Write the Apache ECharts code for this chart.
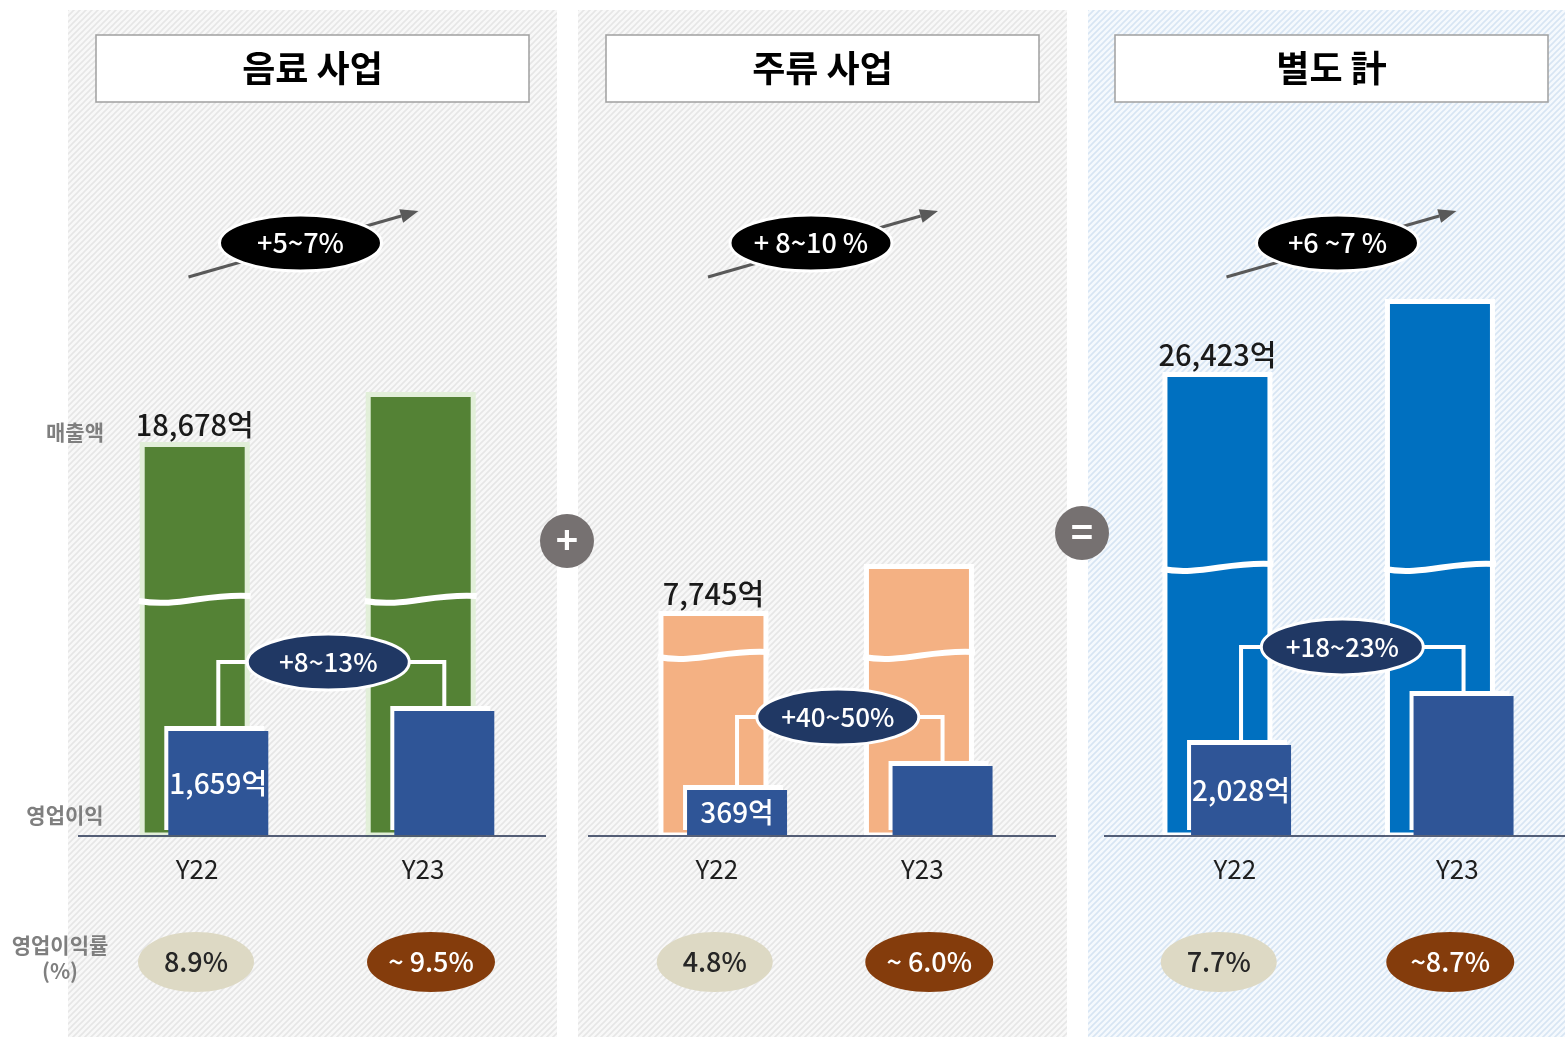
<!DOCTYPE html>
<html><head><meta charset="utf-8">
<script src="https://cdn.jsdelivr.net/npm/echarts@6/dist/echarts.min.js"></script>
<style>html,body{margin:0;padding:0;background:#fff}#c{width:1565px;height:1037px}</style>
</head><body><div id="c"></div><script>
// ---------- data ----------
const categories = ['Y22', 'Y23'];
const panelTitles = ['음료 사업', '주류 사업', '별도 計'];
const revenueBeverage = [18678, 19800];
const revenueLiquor = [7745, 8440];
const revenueTotal = [26423, 28140];
const profitBeverage = [1659, 1830];
const profitLiquor = [369, 535];
const profitTotal = [2028, 2445];
const marginBeverage = [8.9, 9.5];
const marginLiquor = [4.8, 6.0];
const marginTotal = [7.7, 8.7];
const revenueGrowthLabels = ['+5~7%', '+ 8~10 %', '+6 ~7 %'];
const profitGrowthLabels = ['+8~13%', '+40~50%', '+18~23%'];
const forecastPrefix = ['~ ', '~ ', '~'];
const rowLabels = ['매출액', '영업이익', '영업이익률', '(%)'];
const operatorLabels = ['+', '='];

// ---------- layout / style ----------
const FONT = "'Noto Sans CJK KR','Noto Sans',sans-serif";
const GRID_TOP = 135, GRID_H = 700;
const REV_W = 110, PROF_W = 100, GAP = -0.74;
const TOTAL_W = REV_W * (1 + GAP) + PROF_W;
const REV_OFF = -TOTAL_W / 2 + REV_W / 2;
const PROF_OFF = -TOTAL_W / 2 + REV_W * (1 + GAP) + PROF_W / 2;

const panels = [
  { rev: revenueBeverage, prof: profitBeverage, margin: marginBeverage, revColor: '#548235', revBorder: '#e2efd9',
    gridLeft: 91, gridWidth: 452, revAxis: [9859, 25567], profAxis: [770, 6755], breakAt: 15155,
    bgX: 68, bgW: 489, blue: false, headX: 96, baseX1: 78, baseX2: 546,
    arrowShift: -11, topEllShift: -8, growthShift: -3, labelShift: -7 },
  { rev: revenueLiquor, prof: profitLiquor, margin: marginLiquor, revColor: '#f4b183', revBorder: '#ffffff',
    gridLeft: 620, gridWidth: 411, revAxis: [4432, 14785], profAxis: [58, 4900], breakAt: 7094,
    bgX: 578, bgW: 489, blue: false, headX: 606, baseX1: 588, baseX2: 1056,
    arrowShift: 0, topEllShift: -6, growthShift: -2, labelShift: -6 },
  { rev: revenueTotal, prof: profitTotal, margin: marginTotal, revColor: '#0070c0', revBorder: '#ffffff',
    gridLeft: 1115.5, gridWidth: 445, revAxis: [15533, 31997], profAxis: [1262, 7219], breakAt: 21836,
    bgX: 1088, bgW: 477, blue: true, headX: 1115, baseX1: 1104, baseX2: 1565,
    arrowShift: 6, topEllShift: 8, growthShift: -10, labelShift: 8 }
];

function hatch(bg, line) {
  const c = document.createElement('canvas');
  c.width = 6; c.height = 6;
  const x = c.getContext('2d');
  x.fillStyle = bg; x.fillRect(0, 0, 6, 6);
  x.strokeStyle = line; x.lineWidth = 1.6;
  x.beginPath();
  x.moveTo(0, 6); x.lineTo(6, 0);
  x.moveTo(-1, 1); x.lineTo(1, -1);
  x.moveTo(5, 7); x.lineTo(7, 5);
  x.stroke();
  return c;
}
const grayHatch = hatch('#f8f8f8', '#e6e6e6');
const blueHatch = hatch('#f5f9fd', '#d7e5f3');

const fmt = v => v.toLocaleString('en-US');
const centerText = { align: 'center', verticalAlign: 'middle', textAlign: 'center', textVerticalAlign: 'middle' };

const grids = [], xAxes = [], yAxes = [], series = [], graphics = [];

panels.forEach((p, i) => {
  grids.push({ left: p.gridLeft, width: p.gridWidth, top: GRID_TOP, height: GRID_H, containLabel: false, outerBoundsMode: 'none' });
  const ls = p.labelShift;
  xAxes.push({ type: 'category', gridIndex: i, data: categories,
    axisLine: { show: false }, axisTick: { show: false }, splitLine: { show: false },
    axisLabel: { fontSize: 26, color: '#1e1e1e', fontFamily: FONT, margin: 21,
      padding: ls < 0 ? [0, -2 * ls, 0, 0] : [0, 0, 0, 2 * ls] } });
  yAxes.push({ type: 'value', gridIndex: i, min: p.revAxis[0], max: p.revAxis[1], show: false, splitLine: { show: false } });
  yAxes.push({ type: 'value', gridIndex: i, min: p.profAxis[0], max: p.profAxis[1], show: false, splitLine: { show: false } });

  // revenue bars
  series.push({ type: 'bar', xAxisIndex: i, yAxisIndex: 2 * i, data: p.rev, barWidth: REV_W, barGap: (GAP * 100) + '%',
    clip: true, z: 2,
    itemStyle: { color: p.revColor, borderColor: p.revBorder, borderWidth: 5 },
    label: { show: true, position: 'top', distance: 3, fontSize: 29, fontWeight: 500, color: '#1a1a1a', fontFamily: FONT,
      formatter: prm => prm.dataIndex === 0 ? fmt(prm.value) + '억' : '' } });
  // profit bars
  series.push({ type: 'bar', xAxisIndex: i, yAxisIndex: 2 * i + 1, data: p.prof, barWidth: PROF_W, barGap: (GAP * 100) + '%',
    clip: true, z: 4,
    itemStyle: { color: '#2f5597', shadowColor: '#ffffff', shadowBlur: 0, shadowOffsetX: -4, shadowOffsetY: -5 },
    label: { show: true, position: 'inside', fontSize: 28, fontWeight: 500, color: '#ffffff', fontFamily: FONT,
      formatter: prm => prm.dataIndex === 0 ? fmt(prm.value) + '억' : '' } });

  // broken-axis wave marks on revenue bars
  series.push({ type: 'custom', xAxisIndex: i, yAxisIndex: 2 * i, z: 3, silent: true,
    data: categories.map((c, k) => [k, p.breakAt]),
    renderItem: (params, api) => {
      const pt = api.coord([api.value(0), api.value(1)]);
      const cx = pt[0] + REV_OFF, half = REV_W / 2 + 1, y = pt[1];
      const x0 = cx - half, x1 = cx + half, w = x1 - x0;
      return { type: 'bezierCurve',
        shape: { x1: x0, y1: y + 2, cpx1: x0 + w * 0.35, cpy1: y + 9, cpx2: x0 + w * 0.6, cpy2: y - 6, x2: x1, y2: y - 3 },
        style: { stroke: '#ffffff', lineWidth: 6, fill: null } };
    } });

  // profit growth connector + ellipse
  series.push({ type: 'custom', xAxisIndex: i, yAxisIndex: 2 * i + 1, z: 5, silent: true,
    data: [[0, p.prof[0], 1, p.prof[1]]],
    renderItem: (params, api) => {
      const a = api.coord([api.value(0), api.value(1)]);
      const b = api.coord([api.value(2), api.value(3)]);
      const xa = a[0] + PROF_OFF, xb = b[0] + PROF_OFF;
      const level = Math.min(a[1], b[1]) - 49;
      const cx = (xa + xb) / 2 + p.growthShift;
      return { type: 'group', children: [
        { type: 'polyline', shape: { points: [[xa, a[1] - 3], [xa, level], [xb, level], [xb, b[1] - 3]] },
          style: { stroke: '#ffffff', lineWidth: 4, fill: null } },
        { type: 'ellipse', shape: { cx: cx, cy: level, rx: 81, ry: 28 },
          style: { fill: '#203864', stroke: '#ffffff', lineWidth: 3 } },
        { type: 'text', style: Object.assign({ text: profitGrowthLabels[i], x: cx, y: level, fill: '#ffffff', fontSize: 26,
          fontWeight: 500, fontFamily: FONT }, centerText) }
      ] };
    } });

  // revenue growth arrow + black ellipse
  series.push({ type: 'custom', xAxisIndex: i, yAxisIndex: 2 * i, z: 5, silent: true,
    data: [[0, p.rev[0], 1, p.rev[1]]],
    renderItem: (params, api) => {
      const a = api.coord([api.value(0), api.value(1)]);
      const b = api.coord([api.value(2), api.value(3)]);
      const top = params.coordSys.y;
      const m = (a[0] + b[0]) / 2 + (REV_OFF + PROF_OFF) / 2;
      const sx = m - 120 + p.arrowShift, sy = top + 142, ex = m + 110 + p.arrowShift, ey = top + 76;
      const dx = ex - sx, dy = ey - sy, len = Math.sqrt(dx * dx + dy * dy);
      const ux = dx / len, uy = dy / len, L = 18, H = 7;
      const bx = ex - ux * L, by = ey - uy * L;
      const ecx = m - 11 + p.topEllShift, ecy = top + 108;
      return { type: 'group', children: [
        { type: 'line', shape: { x1: sx, y1: sy, x2: bx, y2: by }, style: { stroke: '#595959', lineWidth: 3 } },
        { type: 'polygon', shape: { points: [[ex, ey], [bx - uy * H, by + ux * H], [bx + uy * H, by - ux * H]] },
          style: { fill: '#595959' } },
        { type: 'ellipse', shape: { cx: ecx, cy: ecy, rx: 81, ry: 28 }, style: { fill: '#000000', stroke: '#ffffff', lineWidth: 3 } },
        { type: 'text', style: Object.assign({ text: revenueGrowthLabels[i], x: ecx, y: ecy, fill: '#ffffff', fontSize: 27,
          fontWeight: 500, fontFamily: FONT }, centerText) }
      ] };
    } });

  // operating margin ellipses
  series.push({ type: 'custom', xAxisIndex: i, yAxisIndex: 2 * i, z: 5, silent: true,
    data: p.margin.map((v, k) => [k, v]),
    renderItem: (params, api) => {
      const k = api.value(0), v = api.value(1);
      const pt = api.coord([k, p.revAxis[0]]);
      const cx = pt[0] + (k === 0 ? -8 : 1);
      const cy = params.coordSys.y + params.coordSys.height + 127;
      const txt = (k === 0 ? '' : forecastPrefix[i]) + v.toFixed(1) + '%';
      return { type: 'group', children: [
        { type: 'ellipse', shape: { cx: cx, cy: cy, rx: k === 0 ? 58 : 64, ry: 30 },
          style: { fill: k === 0 ? '#ddd9c4' : '#843c0c' } },
        { type: 'text', style: Object.assign({ text: txt, x: cx, y: cy, fill: k === 0 ? '#262626' : '#ffffff', fontSize: 27,
          fontWeight: 500, fontFamily: FONT }, centerText) }
      ] };
    } });

  // panel chrome
  graphics.push({ type: 'rect', z: 0, shape: { x: p.bgX, y: 10, width: p.bgW, height: 1027 },
    style: { fill: { image: p.blue ? blueHatch : grayHatch, repeat: 'repeat' } } });
  graphics.push({ type: 'rect', z: 1, shape: { x: p.headX, y: 35, width: 433, height: 67 },
    style: { fill: '#ffffff', stroke: '#a0a0a0', lineWidth: 1.5 } });
  graphics.push({ type: 'text', z: 1, x: p.headX + 216.5, y: 68,
    style: Object.assign({ text: panelTitles[i], fill: '#000000', font: 'bold 36px ' + FONT }, centerText) });
  graphics.push({ type: 'line', z: 50, shape: { x1: p.baseX1, y1: 836, x2: p.baseX2, y2: 836 },
    style: { stroke: '#1f2d4d', lineWidth: 1.5 } });
});

// row labels
[[75, 432, rowLabels[0]], [65, 815, rowLabels[1]], [60, 945, rowLabels[2]], [60, 971, rowLabels[3]]].forEach(r => {
  graphics.push({ type: 'text', z: 50, x: r[0], y: r[1],
    style: Object.assign({ text: r[2], fill: '#7f7f7f', font: 'bold 21px ' + FONT }, centerText) });
});
// operators
[[567, 541, operatorLabels[0]], [1082, 533, operatorLabels[1]]].forEach(o => {
  graphics.push({ type: 'circle', z: 50, shape: { cx: o[0], cy: o[1], r: 27 }, style: { fill: '#767171' } });
  graphics.push({ type: 'text', z: 51, x: o[0], y: o[1] - 1,
    style: Object.assign({ text: o[2], fill: '#ffffff', font: 'bold 38px ' + FONT }, centerText) });
});

const chart = echarts.init(document.getElementById('c'), null, { renderer: 'canvas' });
chart.setOption({
  animation: false,
  backgroundColor: '#ffffff',
  textStyle: { fontFamily: FONT },
  grid: grids, xAxis: xAxes, yAxis: yAxes, series: series,
  graphic: { elements: graphics }
});
</script></body></html>
